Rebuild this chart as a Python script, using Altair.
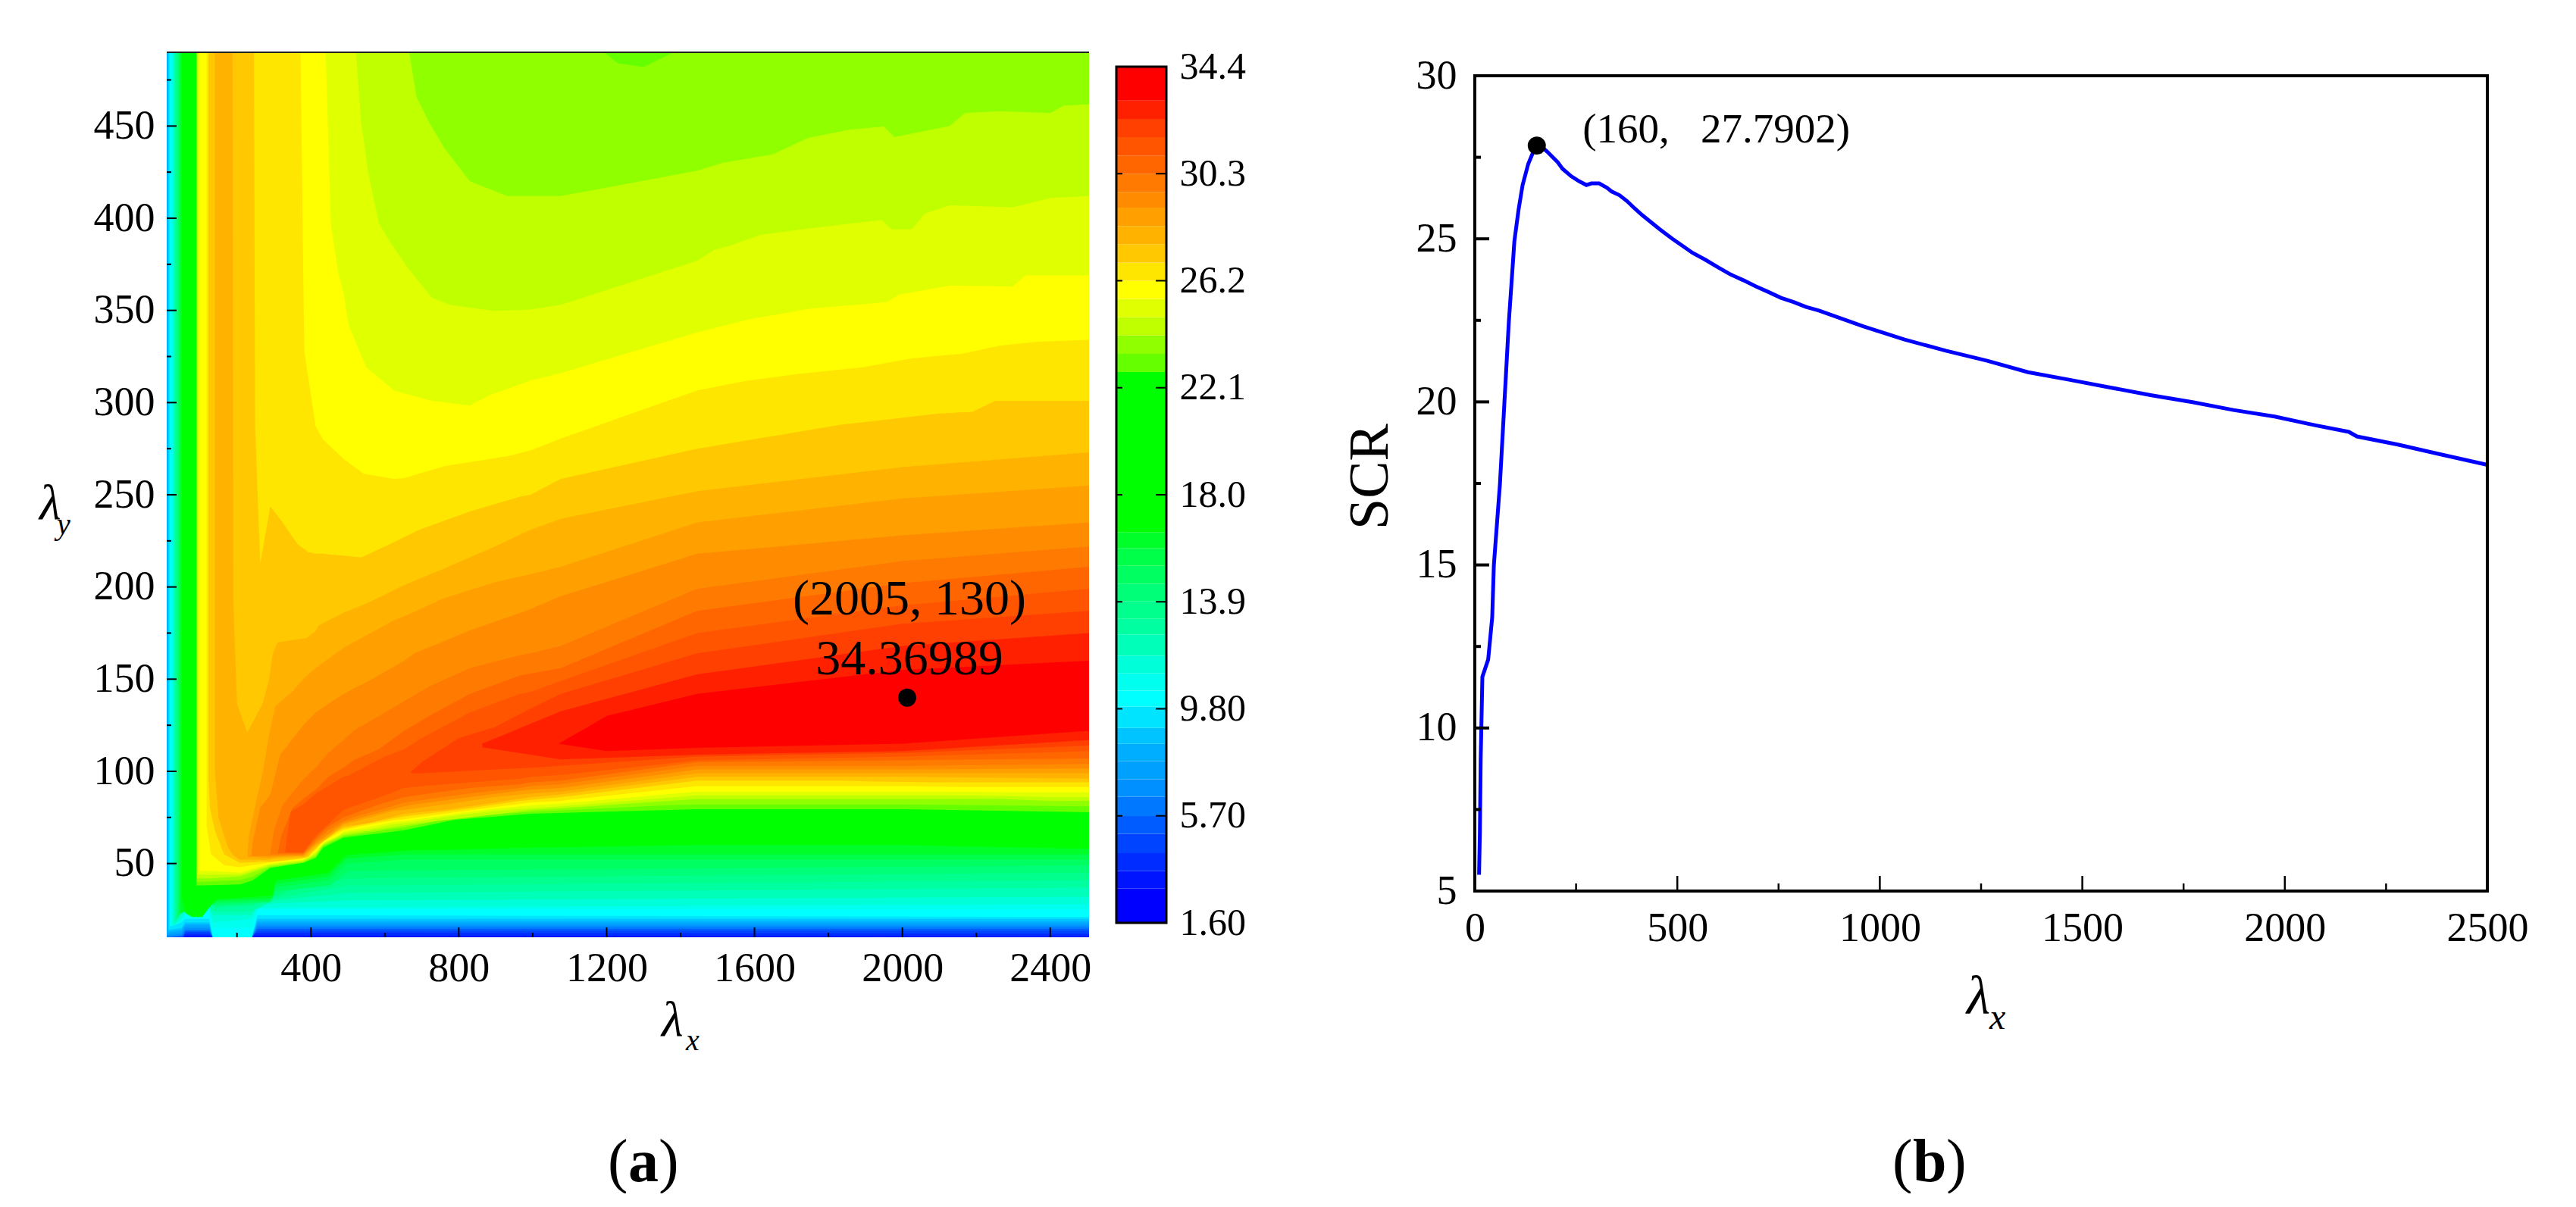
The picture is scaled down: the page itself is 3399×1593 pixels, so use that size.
import altair as alt
import pandas as pd

SERIF = "Liberation Serif"

# ---------- contour levels and their colours ----------
LEVELS = [1.6, 2.92, 3.59, 4.27, 5.01, 5.69, 6.43, 7.1, 7.8, 8.46, 9.07, 9.88, 10.5, 11.16, 11.84,
          12.65, 13.25, 13.93, 14.6, 15.28, 15.96, 16.57, 22.7, 23.4, 24.1, 24.8, 25.5, 26.2, 26.9,
          27.6, 28.3, 29.0, 29.6, 30.3, 31.0, 31.7, 32.4, 33.1]
COLORS = ["#0000ff", "#0014ff", "#002cff", "#0044ff", "#005cff", "#0078ff", "#0090ff", "#00a0ff",
          "#00aeff", "#00c4ff", "#00e4ff", "#00ffff", "#00ffee", "#00ffd8", "#00ffb8", "#00ffa0",
          "#00ff8c", "#00ff78", "#00ff60", "#00ff48", "#00ff28", "#00ff00", "#66ff00", "#90ff00",
          "#c0ff00", "#e0ff00", "#ffff00", "#ffe600", "#ffc800", "#ffb300", "#ffa000", "#ff8c00",
          "#ff7a00", "#ff6600", "#ff5500", "#ff4000", "#ff2000", "#ff0000"]
BAR_TOP = 34.4
BAR_TICKS = [1.6, 5.7, 9.8, 13.9, 18.0, 22.1, 26.2, 30.3, 34.4]

# ---------- contour regions: for each level, (lambda_x, lower lambda_y) with upper edge at 490 ----------
LOW = {
 1.6: [(10,10),(2505,10)],
 2.92: [(10,10),(2505,10)],
 3.59: [(10,10),(60,11),(125,11),(135,10),(255,11),(2505,10.5)],
 4.27: [(10,10),(60,12),(125,12),(135,10),(255,12.5),(2505,12)],
 5.01: [(10,10),(55,10),(60,13),(125,13),(135,10),(240,10),(255,13.5),(2505,13.5)],
 5.69: [(10,10),(55,11),(60,13.5),(125,13.5),(135,10),(240,10),(255,14.5),(2505,14.5)],
 6.43: [(10,10),(50,11),(60,14),(125,14),(135,10),(240,10),(255,15.5),(2505,15.5)],
 7.1: [(10,11),(50,12),(60,15),(125,15),(135,10),(240,10),(255,16.5),(2505,16.5)],
 7.8: [(10,12),(50,13),(60,16),(125,16),(135,10),(240,10),(255,17.5),(2505,17.5)],
 8.46: [(13,13),(50,14),(60,17),(125,17),(135,10),(240,10),(255,18.5),(2505,18.5)],
 9.07: [(15,14),(50,15),(60,18),(125,18),(135,10),(240,10),(255,20),(2505,20)],
 9.88: [(18,16),(50,18),(60,20),(125,20),(135,10),(240,10),(255,22),(2505,21)],
 10.5: [(22,16),(50,18),(60,22),(125,23),(135,15),(240,15),(255,25),(2505,25)],
 11.16: [(26,16),(50,20),(60,23),(125,25),(135,18),(240,20),(255,26),(320,26),(2505,28)],
 11.84: [(29,17),(50,22),(60,24),(125,26),(135,22),(240,22),(255,28),(500,30),(2505,32)],
 12.65: [(32,18),(50,24),(125,27),(135,24),(240,24),(300,30),(500,34),(2505,37)],
 13.25: [(35,19),(50,25),(125,28),(140,26),(240,27),(300,31),(500,38),(2505,41)],
 13.93: [(38,20),(50,26),(125,28),(140,27),(240,28),(300,32),(350,36),(500,42),(2505,45)],
 14.6: [(41,21),(55,26),(125,28),(140,28),(290,29),(304,35),(450,38),(500,46),(2505,49)],
 15.28: [(44,22),(58,25),(80,24),(125,27),(145,29),(290,30),(304,37),(450,41),(495,50),(650,52),(2505,52)],
 15.96: [(47,23),(61,24),(80,22.5),(110,23),(133,28),(147,30),(295,31),(304,39),(447,43),(495,52.5),(652,55),(2505,55)],
 16.57: [(51,31),(61,23),(78,21),(106,21),(133,28.5),(147,30.5),(297,32.6),(304,40.8),(447,44.9),(495,54.5),(652,57),(994,58.6),(1445,60),(2000,60),(2505,58)],
 22.7: [(90,38),(208,38.7),(242,40.8),(290,47.6),(379,50.4),(413,53),(433,58.6),(488,64),(652,68),(789,73.7),(994,77),(1445,79.5),(2000,79.5),(2505,77.8)],
}
# ---------- contour regions with a curved upper edge: (lambda_x, lower, upper) ----------
HIGH = {
 23.4: [(91,40,490),(208,41,490),(242,43,490),(290,48,490),(379,50.5,490),(413,53.8,490),(433,59.5,490),(488,64.8,490),(652,69.5,490),(789,75,490),(994,78,490),(1193,80,490),(1230,80.3,484),(1300,81,482),(1381,81.7,490),(1445,82,490),(2000,82,490),(2505,81,490)],
 24.1: [(92,42,490),(130,42,490),(208,43,490),(290,48.6,490),(379,51,490),(413,54.6,490),(433,60,490),(488,65.5,490),(652,70.5,490),(666,71,490),(686,71.5,465.5),(720,72.5,452),(761,73.5,438),(830,75,420),(932,77.5,412),(994,79,412),(1076,80,412),(1445,85,425.8),(1513,85,430),(1650,85,434.7),(1745,85,443.6),(1855,85,448),(1950,85,449.7),(1978,85,444),(2128,85,450),(2169,85,457),(2265,85,458),(2401,84,457),(2435,84,461),(2505,84,461.7)],
 24.8: [(94,44,490),(130,44,490),(208,44,490),(290,49.3,490),(379,51.6,490),(413,55.5,490),(433,60.5,490),(488,66.5,490),(522,67.5,490),(536,68,452),(556,68.5,424),(584,69.5,397),(618,71,386),(659,72,374),(727,74,357),(775,75.5,353),(898,78.5,349.7),(994,80,350.5),(1076,81,353),(1445,87,377),(1493,87,383),(1527,87,384.7),(1616,87,391),(1732,87,394),(1855,87,397),(1944,87,399),(1971,87,394),(2026,87,394),(2060,87,402.5),(2128,87,407),(2299,86.5,406),(2401,86,411),(2505,86,412)],
 25.5: [(98,46,490),(130,46,490),(208,45,490),(290,50,490),(379,52,490),(413,56.5,490),(433,61,490),(440,62,490),(454,63,397),(474,65,370),(488,67.2,360),(502,68,342),(550,69.5,319),(625,72.5,306.6),(652,73,305),(727,75,301),(830,78,298.4),(884,79.5,304),(994,81.5,312),(1076,82.5,316),(1445,89,338),(1582,89,345),(1752,89,351),(1957,89,354.5),(1991,89,358.6),(2128,89,363.4),(2299,88.6,363),(2333,88.6,369),(2505,88.6,369)],
 26.2: [(118,70,490),(130,55,490),(165,49,490),(208,48,490),(290,50.6,490),(372,52.5,490),(382,52.8,328),(413,57.3,287),(433,62,280),(488,68,269.5),(543,70.5,261.4),(625,73.5,258.6),(652,74,259),(761,77,265.5),(932,81.5,271),(994,83,274),(1076,84,280.5),(1445,92,306.6),(1582,92,312),(1718,92,315.5),(1889,92,319),(2025,92,324),(2162,91.5,326.5),(2265,91.5,331),(2367,91.5,333),(2505,91.5,334)],
 26.9: [(123,95,490),(127,80,490),(140,68,490),(165,55,490),(208,50.4,490),(246,50.7,490),(249,50.7,287),(263,51,212.7),(290,51,243.6),(317,51.5,236.7),(365,52.5,223),(379,53,221),(392,53.5,219),(413,58,218),(433,63,218),(454,66,217.5),(488,69,217),(536,71,216),(611,74,223),(652,75.5,227),(693,76.5,231),(830,80,241),(966,84,249),(994,84.5,250),(1076,86,258.6),(1445,95,275),(1834,95,288),(1923,94.5,290),(2094,94,294),(2190,94,295),(2251,94,301),(2505,94,301)],
 27.6: [(140,100,490),(150,75,490),(175,59,490),(188,55,490),(190,54.5,192),(200,53,137),(208,52,132),(228,52,121),(270,52,137),(287,52,150),(297,52.5,164),(310,52.8,170),(379,53.5,172),(386,54,172),(413,59,176),(420,60,179),(488,70,186),(556,72,191.5),(652,77,201),(761,79,210),(898,83,222),(994,86,231),(1076,87.5,237),(1445,97,252),(2000,97,265),(2505,96,273)],
 28.3: [(228,54,54),(232,53.5,65),(250,53.5,82),(270,53,100),(287,53,120),(304,53.5,135.4),(351,54,143.5),(379,54,150),(413,60,156),(488,71,167),(625,78.5,182),(652,79,184),(761,82,194),(898,86,202.5),(994,88,207),(1076,89,211),(1445,99,235),(2000,99,248),(2505,99,255)],
 29.0: [(239,54,54),(242,54,61),(263,54,80.5),(290,54,87.4),(317,54.2,109),(379,54.5,125),(413,61,132),(488,72,142),(556,76,149),(652,81,160),(680,82,164),(830,86,176.4),(966,89.5,186),(994,90,188),(1076,91,195),(1445,101,218),(2000,101,228),(2505,101.5,235)],
 29.6: [(290,55,55),(300,55,68),(324,55,82),(379,55,95.6),(413,62,102),(447,68,110),(488,73,117),(515,75,122),(584,79,130),(652,83,138),(720,85,146),(830,88,156),(966,91,163),(994,92,164),(1076,93,168),(1445,103,199),(2000,103,214),(2505,104,222)],
 30.3: [(310,55.5,55.5),(320,55.5,65),(350,55.5,80),(379,55.5,85),(413,63.5,90),(447,70,97),(488,75,102),(515,77,106),(584,82,112),(652,86,122),(720,88,130),(830,91,142),(966,93,152),(994,94,153),(1076,95,156),(1445,105,187),(2000,106,202),(2505,107,211)],
 31.0: [(330,56,56),(345,56,78),(379,56,82),(413,65,88),(488,79,97),(500,80,97.5),(600,87,108),(652,91,112),(700,92,118),(830,94,132),(966,96,142),(994,97,143),(1076,98,149),(1445,106,175),(2000,108,190),(2505,111,199)],
 31.7: [(670,99,99.6),(700,99,105),(800,100,118),(898,101,124),(994,102,134),(1076,103,142),(1445,108,164),(2000,110,180),(2505,114,187)],
 32.4: [(864,113,115),(1076,106.5,132.6),(1445,109,152.6),(2000,111,168),(2505,117,175)],
 33.1: [(1070,115,115),(1200,111,130),(1445,112.7,142),(2000,115,155),(2505,122,160)],
}

# ---------- panel (b) curve ----------
LINE_X = [10.5, 12.5, 14.6, 18.7, 33, 43, 47, 62, 73, 84, 97.7, 108, 118, 132, 148, 160, 179, 204, 216.5, 238,
          257, 275.6, 288, 307, 325.6, 338, 357, 375.6, 394, 413, 432, 457, 488, 519, 537.6, 569, 600, 631,
          663, 694, 725, 756, 787, 818, 849.6, 960, 1061, 1163, 1265, 1366, 1467, 1569, 1671, 1772, 1873,
          1975, 2076, 2158, 2178, 2279, 2381, 2500]
LINE_Y = [5.5, 6.77, 9.11, 11.57, 12.1, 13.4, 14.99, 17.48, 19.96, 22.45, 24.93, 25.89, 26.65, 27.3, 27.78, 27.88,
          27.67, 27.36, 27.15, 26.92, 26.77, 26.65, 26.7, 26.7, 26.57, 26.45, 26.34, 26.16, 25.94, 25.73, 25.54,
          25.29, 25.0, 24.73, 24.57, 24.36, 24.13, 23.91, 23.73, 23.54, 23.37, 23.19, 23.06, 22.91, 22.8, 22.31,
          21.91, 21.57, 21.26, 20.91, 20.68, 20.44, 20.2, 19.99, 19.75, 19.55, 19.28, 19.08, 18.94, 18.69, 18.4, 18.07]

HEAT_X_MAJOR = [400, 800, 1200, 1600, 2000, 2400]
HEAT_X_MINOR = [200, 600, 1000, 1400, 1800, 2200]
HEAT_Y_MAJOR = [50, 100, 150, 200, 250, 300, 350, 400, 450]
HEAT_Y_MINOR = [75, 125, 175, 225, 275, 325, 375, 425, 475]
LINE_X_MAJOR = [0, 500, 1000, 1500, 2000, 2500]
LINE_X_MINOR = [250, 750, 1250, 1750, 2250]
LINE_Y_MAJOR = [5, 10, 15, 20, 25, 30]
LINE_Y_MINOR = [7.5, 12.5, 17.5, 22.5, 27.5]

HEAT_W, HEAT_H = 1217, 1168
BAR_W, BAR_H = 66, 1149
LINE_W, LINE_H = 1336, 1107

names = [str(v) for v in LEVELS]
color_scale = alt.Scale(domain=names, range=COLORS)
heat_xs = alt.Scale(domain=[10, 2505], nice=False, zero=False)
heat_ys = alt.Scale(domain=[10, 490], nice=False, zero=False)
line_xs = alt.Scale(domain=[0, 2500], nice=False, zero=False)
line_ys = alt.Scale(domain=[5, 30], range=[LINE_H, 31], nice=False, zero=False)
bar_ys = alt.Scale(domain=[1.6, 34.4], range=[BAR_H, 19], nice=False, zero=False)

AX = dict(domain=False, ticks=False, grid=False, title=None, labelFont=SERIF, labelFontSize=54,
          labelColor="black", labelOverlap=False, labelFlush=False, labelBound=False)
heat_xa = alt.Axis(values=HEAT_X_MAJOR, labelPadding=14, format="d", **AX)
heat_ya = alt.Axis(values=HEAT_Y_MAJOR, labelPadding=16, format="d", **AX)
line_xa = alt.Axis(values=LINE_X_MAJOR, labelPadding=22, format="d", **AX)
line_ya = alt.Axis(values=LINE_Y_MAJOR, labelPadding=24, format="d", **AX)
bar_ya = alt.Axis(orient="right", values=BAR_TICKS, labelPadding=17,
                  labelExpr="datum.value < 10 ? format(datum.value, '.2f') : format(datum.value, '.1f')",
                  **{**AX, "labelFontSize": 50})


def text(s, x, y, size, style="normal", weight="normal", angle=0, align="left"):
    kw = dict(text=s, font=SERIF, fontSize=size, fontStyle=style, fontWeight=weight, align=align,
              baseline="alphabetic", color="black", angle=angle)
    return alt.Chart(pd.DataFrame({"a": [0]})).mark_text(**kw).encode(x=alt.value(x), y=alt.value(y))


def data_text(s, x, y, xs, ys, xa, ya, size, align="center"):
    return alt.Chart(pd.DataFrame({"x": [x], "y": [y]})).mark_text(
        text=s, font=SERIF, fontSize=size, align=align, baseline="alphabetic", color="black"
    ).encode(x=alt.X("x:Q", scale=xs, axis=xa), y=alt.Y("y:Q", scale=ys, axis=ya))


def xticks(vals, xs, xa, h, length, w):
    return alt.Chart(pd.DataFrame({"t": vals})).mark_rule(color="black", strokeWidth=w).encode(
        x=alt.X("t:Q", scale=xs, axis=xa), y=alt.value(h), y2=alt.value(h - length))


def yticks(vals, ys, ya, x0, length, w):
    return alt.Chart(pd.DataFrame({"t": vals})).mark_rule(color="black", strokeWidth=w).encode(
        y=alt.Y("t:Q", scale=ys, axis=ya), x=alt.value(x0), x2=alt.value(x0 + length))


# ---------- panel (a) ----------
rows = []
for lev, pts in LOW.items():
    for x, lo in pts:
        rows.append({"band": str(lev), "x": x, "lo": lo, "hi": 490})
for lev, pts in HIGH.items():
    for x, lo, hi in pts:
        rows.append({"band": str(lev), "x": x, "lo": lo, "hi": hi})
heat_df = pd.DataFrame(rows)

areas = alt.Chart(heat_df).mark_area(interpolate="linear", opacity=1, strokeWidth=0).encode(
    x=alt.X("x:Q", scale=heat_xs, axis=heat_xa),
    y=alt.Y("lo:Q", scale=heat_ys, axis=heat_ya),
    y2="hi:Q",
    color=alt.Color("band:N", scale=color_scale, legend=None),
    detail="band:N",
)
top_line = alt.Chart(pd.DataFrame({"y": [490]})).mark_rule(color="#222222", strokeWidth=2).encode(
    y=alt.Y("y:Q", scale=heat_ys, axis=heat_ya), x=alt.value(0), x2=alt.value(HEAT_W))
dot_a = alt.Chart(pd.DataFrame({"x": [2013], "y": [140]})).mark_point(
    filled=True, color="black", size=573, opacity=1, shape="circle"
).encode(x=alt.X("x:Q", scale=heat_xs, axis=heat_xa), y=alt.Y("y:Q", scale=heat_ys, axis=heat_ya))

heat = alt.layer(
    areas, top_line,
    xticks(HEAT_X_MAJOR, heat_xs, heat_xa, HEAT_H, 13, 2), xticks(HEAT_X_MINOR, heat_xs, heat_xa, HEAT_H, 6, 2),
    yticks(HEAT_Y_MAJOR, heat_ys, heat_ya, 0, 13, 2), yticks(HEAT_Y_MINOR, heat_ys, heat_ya, 0, 6, 2),
    dot_a,
    data_text("(2005, 130)", 2019, 185, heat_xs, heat_ys, heat_xa, heat_ya, 66),
    data_text("34.36989", 2019, 152.6, heat_xs, heat_ys, heat_xa, heat_ya, 66),
    text("\u03bb", 653, 1298, 66, style="italic"),
    text("x", 685, 1317, 40, style="italic"),
    text("\u03bb", -168, 616, 66, style="italic"),
    text("y", -145, 636, 40, style="italic"),
    text("(", 582, 1490, 80), text("a", 609, 1490, 80, weight="bold"), text(")", 649, 1490, 80),
).properties(width=HEAT_W, height=HEAT_H)

# ---------- colour bar ----------
tops = LEVELS[1:] + [BAR_TOP]
bar_df = pd.DataFrame({"band": names, "lo": LEVELS, "hi": tops})
bar_rects = alt.Chart(bar_df).mark_rect().encode(
    y=alt.Y("lo:Q", scale=bar_ys, axis=bar_ya),
    y2="hi:Q",
    x=alt.value(0), x2=alt.value(BAR_W),
    color=alt.Color("band:N", scale=color_scale, legend=None),
)
bar_frame = alt.Chart(pd.DataFrame({"lo": [1.6], "hi": [BAR_TOP]})).mark_rect(
    fill=None, stroke="black", strokeWidth=3
).encode(y=alt.Y("lo:Q", scale=bar_ys, axis=bar_ya), y2="hi:Q", x=alt.value(0), x2=alt.value(BAR_W))
bar = alt.layer(
    bar_rects, bar_frame,
    yticks(BAR_TICKS, bar_ys, bar_ya, 0, 8, 2), yticks(BAR_TICKS, bar_ys, bar_ya, BAR_W - 14, 14, 2),
).properties(width=BAR_W, height=BAR_H)

# ---------- spacer ----------
spacer = alt.Chart(pd.DataFrame({"a": [0]})).mark_text(text=" ").encode(
    x=alt.value(0), y=alt.value(0)).properties(width=335, height=10)

# ---------- panel (b) ----------
line_df = pd.DataFrame({"x": LINE_X, "y": LINE_Y})
curve = alt.Chart(line_df).mark_line(color="#0000ff", strokeWidth=5, interpolate="linear").encode(
    x=alt.X("x:Q", scale=line_xs, axis=line_xa),
    y=alt.Y("y:Q", scale=line_ys, axis=line_ya),
)
frame = alt.Chart(pd.DataFrame({"x0": [0], "x1": [2500], "y0": [5], "y1": [30]})).mark_rect(
    fill=None, stroke="black", strokeWidth=4
).encode(
    x=alt.X("x0:Q", scale=line_xs, axis=line_xa), x2="x1:Q",
    y=alt.Y("y0:Q", scale=line_ys, axis=line_ya), y2="y1:Q",
)
dot_b = alt.Chart(pd.DataFrame({"x": [153], "y": [27.86]})).mark_point(
    filled=True, color="black", size=573, opacity=1, shape="circle"
).encode(x=alt.X("x:Q", scale=line_xs, axis=line_xa), y=alt.Y("y:Q", scale=line_ys, axis=line_ya))

line = alt.layer(
    curve, frame,
    xticks(LINE_X_MAJOR[1:-1], line_xs, line_xa, LINE_H, 20, 2.5), xticks(LINE_X_MINOR, line_xs, line_xa, LINE_H, 10, 2.5),
    yticks(LINE_Y_MAJOR[1:-1], line_ys, line_ya, 0, 19, 4), yticks(LINE_Y_MINOR, line_ys, line_ya, 0, 8, 4),
    dot_b,
    data_text("(160,\u00a0\u00a0\u00a027.7902)", 266, 27.96, line_xs, line_ys, line_xa, line_ya, 55, align="left"),
    text("SCR", -115, 560, 74, angle=270, align="center"),
    text("\u03bb", 649, 1269, 72, style="italic"),
    text("x", 679, 1289, 48, style="italic"),
    text("(", 551, 1490, 80), text("b", 578, 1490, 80, weight="bold"), text(")", 622, 1490, 80),
).properties(width=LINE_W, height=LINE_H)

chart = alt.hconcat(heat, bar, spacer, line, spacing=36, bounds="flush").resolve_scale(
    color="shared"
).configure_view(stroke=None).properties(
    padding={"left": 44, "top": 55, "right": 0, "bottom": 0}, background="white"
)

chart.save("out.html", embed_options={"renderer": "svg", "actions": False})
